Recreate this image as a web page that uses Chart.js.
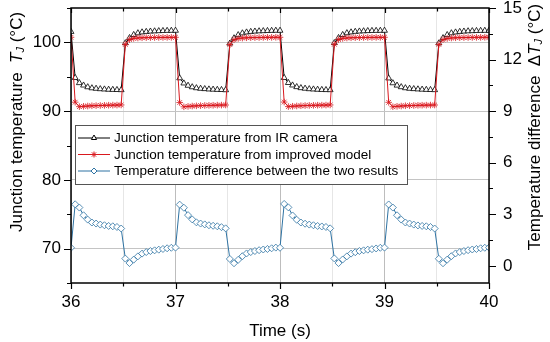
<!DOCTYPE html>
<html>
<head>
<meta charset="utf-8">
<script src="https://cdn.jsdelivr.net/npm/chart.js@4.4.1/dist/chart.umd.min.js"></script>
<style>
  html, body { margin: 0; padding: 0; background: #fff; }
  #wrap { width: 550px; height: 342px; }
</style>
</head>
<body>
<div id="wrap"><canvas id="chart" width="550" height="342"></canvas></div>
<script>
// sample times (s), 25 Hz
const timeSec = [
  36.00,36.04,36.08,36.12,36.16,36.20,36.24,36.28,36.32,36.36,36.40,36.44,36.48,36.52,36.56,36.60,36.64,36.68,36.72,36.76,36.80,36.84,36.88,36.92,36.96,
  37.00,37.04,37.08,37.12,37.16,37.20,37.24,37.28,37.32,37.36,37.40,37.44,37.48,37.52,37.56,37.60,37.64,37.68,37.72,37.76,37.80,37.84,37.88,37.92,37.96,
  38.00,38.04,38.08,38.12,38.16,38.20,38.24,38.28,38.32,38.36,38.40,38.44,38.48,38.52,38.56,38.60,38.64,38.68,38.72,38.76,38.80,38.84,38.88,38.92,38.96,
  39.00,39.04,39.08,39.12,39.16,39.20,39.24,39.28,39.32,39.36,39.40,39.44,39.48,39.52,39.56,39.60,39.64,39.68,39.72,39.76,39.80,39.84,39.88,39.92,39.96,
  40.00
];

// junction temperature from IR camera (°C)
const irCamera = [
  101.55,94.85,94.10,93.75,93.50,93.35,93.28,93.22,93.18,93.14,93.12,93.10,93.08,99.90,100.65,101.10,101.35,101.48,101.55,101.60,101.63,101.66,101.68,101.70,101.71,
  101.72,94.80,94.05,93.72,93.50,93.36,93.28,93.23,93.18,93.15,93.12,93.10,93.07,99.85,100.62,101.08,101.34,101.47,101.55,101.60,101.64,101.66,101.68,101.70,101.72,
  101.72,94.85,94.12,93.76,93.52,93.37,93.29,93.22,93.18,93.14,93.11,93.09,93.08,99.92,100.66,101.10,101.36,101.48,101.56,101.61,101.64,101.67,101.69,101.70,101.71,
  101.72,94.78,94.08,93.74,93.51,93.36,93.28,93.23,93.19,93.15,93.12,93.10,93.08,99.88,100.64,101.09,101.35,101.47,101.55,101.60,101.64,101.66,101.68,101.70,101.71,
  101.72
];

// junction temperature from improved model (°C)
const improvedModel = [
  100.74,91.30,90.65,90.70,90.74,90.78,90.80,90.82,90.84,90.86,90.87,90.88,90.90,99.70,100.40,100.58,100.64,100.67,100.69,100.70,100.71,100.72,100.72,100.73,100.73,
  100.74,91.25,90.63,90.69,90.74,90.77,90.80,90.82,90.84,90.85,90.87,90.88,90.89,99.68,100.38,100.57,100.63,100.67,100.69,100.70,100.71,100.72,100.73,100.73,100.74,
  100.74,91.32,90.66,90.71,90.75,90.78,90.81,90.83,90.84,90.86,90.87,90.88,90.90,99.72,100.41,100.58,100.64,100.67,100.69,100.70,100.71,100.72,100.72,100.73,100.73,
  100.74,91.28,90.64,90.70,90.74,90.78,90.80,90.82,90.84,90.86,90.87,90.88,90.89,99.70,100.39,100.57,100.64,100.67,100.69,100.70,100.71,100.72,100.73,100.73,100.74,
  100.74
];

// temperature difference between the two results (°C)
const tempDiff = [
  1.05,3.58,3.39,2.94,2.69,2.52,2.46,2.40,2.36,2.32,2.30,2.26,2.17,0.42,0.16,0.36,0.55,0.71,0.80,0.86,0.90,0.94,0.98,1.02,1.05,
  1.06,3.56,3.38,2.95,2.70,2.53,2.46,2.41,2.36,2.33,2.30,2.25,2.18,0.40,0.15,0.35,0.56,0.72,0.80,0.86,0.91,0.95,0.98,1.02,1.06,
  1.05,3.60,3.40,2.93,2.68,2.52,2.45,2.40,2.36,2.32,2.29,2.26,2.18,0.43,0.16,0.37,0.55,0.71,0.79,0.86,0.90,0.94,0.97,1.01,1.05,
  1.06,3.57,3.39,2.94,2.69,2.52,2.46,2.40,2.35,2.32,2.30,2.26,2.17,0.41,0.15,0.36,0.56,0.72,0.80,0.86,0.91,0.95,0.98,1.02,1.05,
  1.06
];

const seriesNames = [
  'Junction temperature from IR camera',
  'Junction temperature from improved model',
  'Temperature difference between the two results'
];

// tick positions (all) and the ones that carry a label
const xTicks = [36, 36.5, 37, 37.5, 38, 38.5, 39, 39.5, 40];
const xTickLabels = [36, 37, 38, 39, 40];
const leftTicks = [65, 70, 75, 80, 85, 90, 95, 100, 105];
const leftTickLabels = [70, 80, 90, 100];
const rightTicks = [0, 1.5, 3, 4.5, 6, 7.5, 9, 10.5, 12, 13.5, 15];
const rightTickLabels = [0, 3, 6, 9, 12, 15];

const FONT = "'Liberation Sans', Arial, sans-serif";
const BLACK = '#000000';
const RED = '#d9181e';
const BLUE = '#2f73a3';

const toPoints = (ys) => ys.map((y, i) => ({ x: timeSec[i], y: y }));

// axis frame, tick marks, legend box and axis titles
const decorPlugin = {
  id: 'decor',
  afterDatasetsDraw(chart) {
    const ctx = chart.ctx;
    // legend box
    const bx = 75, by = 125, bw = 332, bh = 59;
    ctx.save();
    ctx.fillStyle = '#fff';
    ctx.fillRect(bx, by, bw, bh);
    ctx.strokeStyle = '#555';
    ctx.lineWidth = 1;
    ctx.strokeRect(bx + 0.5, by + 0.5, bw, bh);
    const rows = [
      { color: BLACK, style: 'triangle' },
      { color: RED, style: 'star' },
      { color: BLUE, style: 'rectRot' }
    ];
    ctx.font = '13.5px ' + FONT;
    ctx.textBaseline = 'middle';
    rows.forEach((r, i) => {
      const y = by + 13 + i * 16.5;
      ctx.strokeStyle = r.color;
      ctx.lineWidth = 1;
      ctx.beginPath();
      ctx.moveTo(78, y);
      ctx.lineTo(110, y);
      ctx.stroke();
      ctx.fillStyle = '#fff';
      Chart.helpers.drawPoint(ctx, { pointStyle: r.style, radius: 3, borderWidth: 1, rotation: 0 }, 94, y);
      ctx.fillStyle = '#000';
      ctx.fillText(seriesNames[i], 114, y + 0.5);
    });
    ctx.restore();
  },
  afterDraw(chart) {
    const ctx = chart.ctx;
    const a = chart.chartArea;
    const sx = chart.scales.x, sy = chart.scales.y, sy2 = chart.scales.y2;
    ctx.save();
    ctx.strokeStyle = '#000';
    ctx.lineWidth = 1.5;
    ctx.strokeRect(a.left, a.top, a.right - a.left, a.bottom - a.top);
    ctx.lineWidth = 1.2;
    ctx.beginPath();
    xTicks.forEach(v => {
      const px = Math.round(sx.getPixelForValue(v)) + 0.5;
      const major = xTickLabels.includes(v);
      ctx.moveTo(px, a.bottom);
      ctx.lineTo(px, a.bottom + (major ? 6 : 3.5));
      ctx.moveTo(px, a.top);
      ctx.lineTo(px, a.top + (major ? 5 : 3.5));
    });
    leftTicks.forEach(v => {
      const py = Math.round(sy.getPixelForValue(v)) + 0.5;
      const major = leftTickLabels.includes(v);
      ctx.moveTo(a.left, py);
      ctx.lineTo(a.left - (major ? 7 : 4), py);
    });
    rightTicks.forEach(v => {
      const py = Math.round(sy2.getPixelForValue(v)) + 0.5;
      const major = rightTickLabels.includes(v);
      ctx.moveTo(a.right, py);
      ctx.lineTo(a.right + (major ? 7 : 4), py);
    });
    ctx.stroke();

    // titles
    ctx.fillStyle = '#000';
    ctx.textBaseline = 'middle';
    ctx.textAlign = 'center';
    ctx.font = '17px ' + FONT;
    ctx.fillText('Time (s)', (a.left + a.right) / 2, 331);

    drawVerticalTitle(ctx, 17, 122, [
      { t: 'Junction temperature  ', f: '17px ' + FONT },
      { t: 'T', f: 'italic 17px ' + FONT },
      { t: 'J', f: 'italic 11px ' + FONT, dy: 4 },
      { t: ' (°C)', f: '17px ' + FONT }
    ]);
    drawVerticalTitle(ctx, 535, 127, [
      { t: 'Temperature difference  ', f: '17px ' + FONT },
      { t: 'Δ', f: '17px ' + FONT },
      { t: 'T', f: 'italic 17px ' + FONT },
      { t: 'J', f: 'italic 11px ' + FONT, dy: 4 },
      { t: ' (°C)', f: '17px ' + FONT }
    ]);
    ctx.restore();
  }
};

function drawVerticalTitle(ctx, cx, cy, parts) {
  ctx.save();
  ctx.textAlign = 'left';
  ctx.textBaseline = 'middle';
  let total = 0;
  parts.forEach(p => { ctx.font = p.f; p.w = ctx.measureText(p.t).width; total += p.w; });
  ctx.translate(cx, cy);
  ctx.rotate(-Math.PI / 2);
  let x = -total / 2;
  parts.forEach(p => {
    ctx.font = p.f;
    ctx.fillText(p.t, x, p.dy || 0);
    x += p.w;
  });
  ctx.restore();
}

// keep tick label overflow from pushing the plot area around
const fitY = (w) => (scale) => { scale.width = w; scale.paddingTop = 0; scale.paddingBottom = 0; };

const ctx = document.getElementById('chart').getContext('2d');
new Chart(ctx, {
  type: 'line',
  data: {
    datasets: [
      {
        label: seriesNames[0],
        data: toPoints(irCamera),
        yAxisID: 'y',
        borderColor: BLACK,
        borderWidth: 1,
        pointStyle: 'triangle',
        pointRadius: 3.4,
        pointBorderWidth: 0.8,
        pointBorderColor: BLACK,
        pointBackgroundColor: '#fff',
        tension: 0,
        order: 2
      },
      {
        label: seriesNames[1],
        data: toPoints(improvedModel),
        yAxisID: 'y',
        borderColor: RED,
        borderWidth: 1,
        pointStyle: 'star',
        pointRadius: 3.3,
        pointBorderWidth: 0.8,
        pointBorderColor: RED,
        pointBackgroundColor: RED,
        tension: 0,
        order: 1
      },
      {
        label: seriesNames[2],
        data: toPoints(tempDiff),
        yAxisID: 'y2',
        borderColor: BLUE,
        borderWidth: 1,
        pointStyle: 'rectRot',
        pointRadius: 3.5,
        pointBorderWidth: 0.8,
        pointBorderColor: BLUE,
        pointBackgroundColor: '#fff',
        tension: 0,
        order: 0
      }
    ]
  },
  options: {
    responsive: false,
    maintainAspectRatio: false,
    animation: false,
    devicePixelRatio: 1,
    layout: { padding: { top: 8, left: 0, right: 0, bottom: 0 } },
    plugins: {
      legend: { display: false },
      tooltip: { enabled: false },
      title: { display: false }
    },
    scales: {
      x: {
        type: 'linear',
        min: 36,
        max: 40,
        afterBuildTicks: (axis) => { axis.ticks = xTicks.map(v => ({ value: v })); },
        afterFit: (scale) => { scale.height = 59; scale.paddingLeft = 0; scale.paddingRight = 0; },
        ticks: {
          autoSkip: false,
          maxRotation: 0,
          padding: 9,
          color: '#000',
          font: { family: FONT, size: 17 },
          callback: (v) => xTickLabels.includes(v) ? String(v) : ''
        },
        grid: {
          drawTicks: false,
          lineWidth: 1,
          color: (c) => (c.tick && xTickLabels.includes(c.tick.value)) ? '#bdbdbd' : '#e6e6e6'
        },
        border: { display: false }
      },
      y: {
        type: 'linear',
        position: 'left',
        min: 65,
        max: 105,
        afterBuildTicks: (axis) => { axis.ticks = leftTicks.map(v => ({ value: v })); },
        afterFit: fitY(71),
        ticks: {
          autoSkip: false,
          padding: 10,
          color: '#000',
          font: { family: FONT, size: 17 },
          callback: (v) => leftTickLabels.includes(v) ? String(v) : ''
        },
        grid: {
          drawTicks: false,
          lineWidth: 1,
          color: (c) => (c.tick && leftTickLabels.includes(c.tick.value)) ? '#c4c4c4' : 'rgba(0,0,0,0)'
        },
        border: { display: false }
      },
      y2: {
        type: 'linear',
        position: 'right',
        min: -1,
        max: 15,
        afterBuildTicks: (axis) => { axis.ticks = rightTicks.map(v => ({ value: v })); },
        afterFit: fitY(61),
        ticks: {
          autoSkip: false,
          padding: 14,
          color: '#000',
          font: { family: FONT, size: 17 },
          callback: (v) => rightTickLabels.includes(v) ? String(v) : ''
        },
        grid: { display: false, drawTicks: false },
        border: { display: false }
      }
    }
  },
  plugins: [decorPlugin]
});
</script>
</body>
</html>
